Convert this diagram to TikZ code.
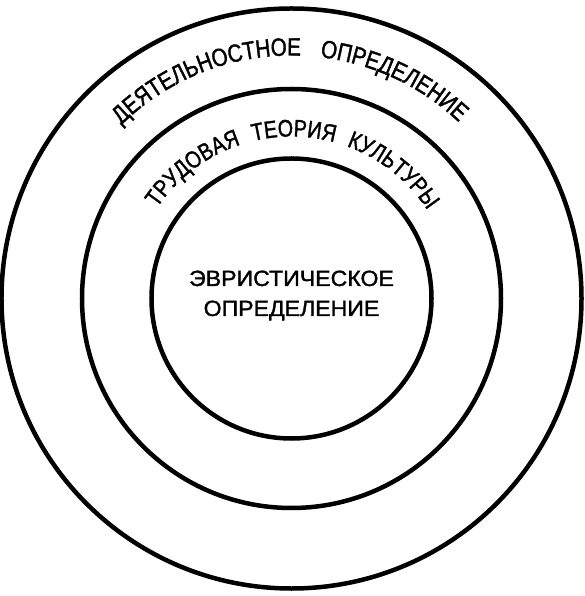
\documentclass[tikz,border=0pt]{standalone}
\usepackage{fontspec}
\setmainfont{Liberation Sans}
\newfontfamily\ringfont[FakeStretch=0.82,FakeBold=1.5]{Liberation Sans}
\newfontfamily\corefont[FakeStretch=1.05,FakeBold=1.5]{Liberation Sans}
\usetikzlibrary{decorations.text}

\begin{document}
\begin{tikzpicture}[ring/.style={circle,draw,line width=4.5pt,inner sep=0,minimum size=#1},
	arctext/.style 2 args={decorate,decoration={text along path,
	text align=fit to path stretching spaces,
	text={|\ringfont\fontsize{#1}{#1}\selectfont|#2}}}]
\useasboundingbox (-291.5pt,-297.5pt) rectangle (292.5pt,298.5pt);
\node[ring=580pt] (outer) at (0,0) {};
\node[ring=419pt] (middle) at (0,0) {};
\node[ring=280pt] (inner) at (0,0) {};
\node[align=center,inner sep=0,font=\corefont\fontsize{22}{30}\selectfont] (heur) at (0,3pt)
	{ЭВРИСТИЧЕСКОЕ\\ОПРЕДЕЛЕНИЕ};
\path[arctext={25}{ДЕЯТЕЛЬНОСТНОЕ ОПРЕДЕЛЕНИЕ}] (134.5:243pt)
	arc[start angle=134.5,end angle=46.5,radius=243pt];
\path[arctext={24}{ТРУДОВАЯ ТЕОРИЯ КУЛЬТУРЫ}] (146:162pt)
	arc[start angle=146,end angle=33,radius=162pt];
\end{tikzpicture}
\end{document}
